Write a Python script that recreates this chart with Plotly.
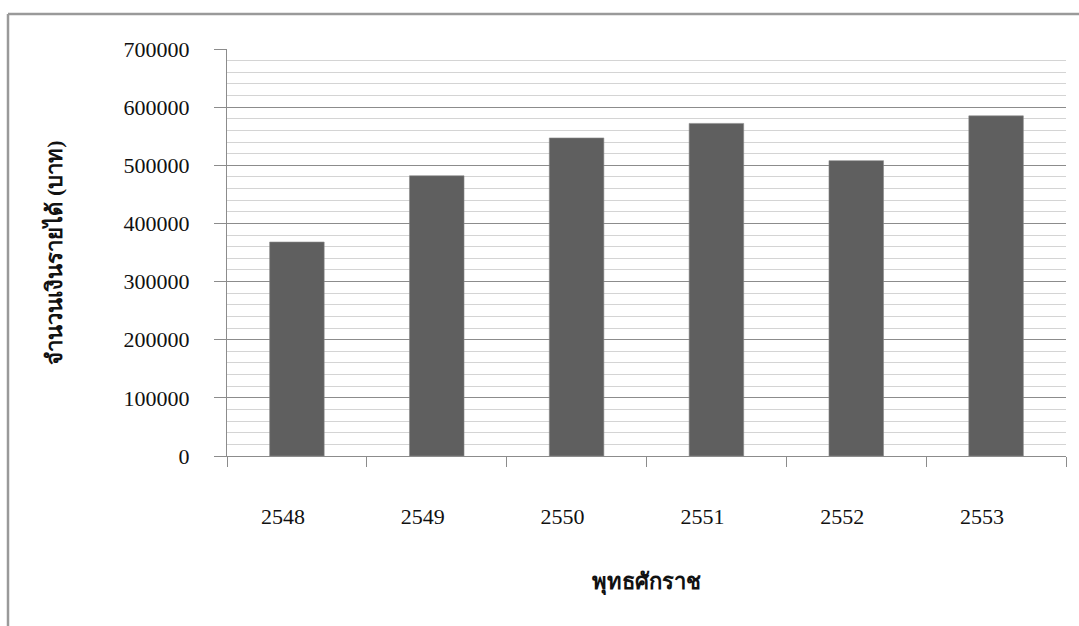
import plotly.graph_objects as go

# Annual revenue (baht) by Buddhist-era year
years = ["2548", "2549", "2550", "2551", "2552", "2553"]
revenue = [368000, 482000, 547000, 572000, 508000, 585000]

y_ticks = [0, 100000, 200000, 300000, 400000, 500000, 600000, 700000]
y_tick_text = [str(v) for v in y_ticks]

serif = "Liberation Serif, Times New Roman, serif"

fig = go.Figure(
    go.Bar(
        x=years,
        y=revenue,
        marker=dict(color="#5f5f5f", line=dict(color="#8a8a8a", width=0.6)),
        width=0.39,
    )
)

fig.update_layout(
    width=1079,
    height=626,
    margin=dict(l=227, r=13, t=49, b=170),
    paper_bgcolor="white",
    plot_bgcolor="white",
    showlegend=False,
    bargap=0.61,
    font=dict(family=serif, size=20, color="#111111"),
)

fig.update_yaxes(
    range=[0, 700000],
    tickvals=y_ticks,
    ticktext=y_tick_text,
    ticks="outside",
    ticklen=12,
    tickcolor="#8c8c8c",
    tickwidth=1.3,
    tickfont=dict(family=serif, size=22, color="#111111"),
    ticklabelstandoff=20,
    showgrid=True,
    gridcolor="#8c8c8c",
    gridwidth=1.3,
    minor=dict(dtick=20000, showgrid=True, gridcolor="#d4d4d4", gridwidth=1.3),
    showline=True,
    linecolor="#8c8c8c",
    linewidth=1.3,
    zeroline=False,
    title=dict(
        text="<b>จำนวนเงินรายได้ (บาท)</b>",
        font=dict(family=serif, size=22, color="#111111"),
        standoff=54,
    ),
)

fig.update_xaxes(
    type="category",
    tickson="boundaries",
    ticks="outside",
    ticklen=10,
    tickcolor="#8c8c8c",
    tickwidth=1.3,
    tickfont=dict(family=serif, size=22, color="#111111"),
    ticklabelstandoff=40,
    ticklabelshift=-14,
    showline=True,
    linecolor="#8c8c8c",
    linewidth=1.3,
    showgrid=False,
    title=dict(
        text="<b>พุทธศักราช</b>",
        font=dict(family=serif, size=22, color="#111111"),
        standoff=46,
    ),
)

# Outer chart frame (left and top edges)
frame_color = "#9a9a9a"
fig.add_shape(type="line", xref="paper", yref="paper",
              x0=(8 - 227) / 839, x1=(8 - 227) / 839,
              y0=(456 - 626) / 407, y1=(456 - 14) / 407,
              line=dict(color=frame_color, width=2.5))
fig.add_shape(type="line", xref="paper", yref="paper",
              x0=(8 - 227) / 839, x1=(1079 - 227) / 839,
              y0=(456 - 14) / 407, y1=(456 - 14) / 407,
              line=dict(color=frame_color, width=2.5))

fig.write_html("out.html")
